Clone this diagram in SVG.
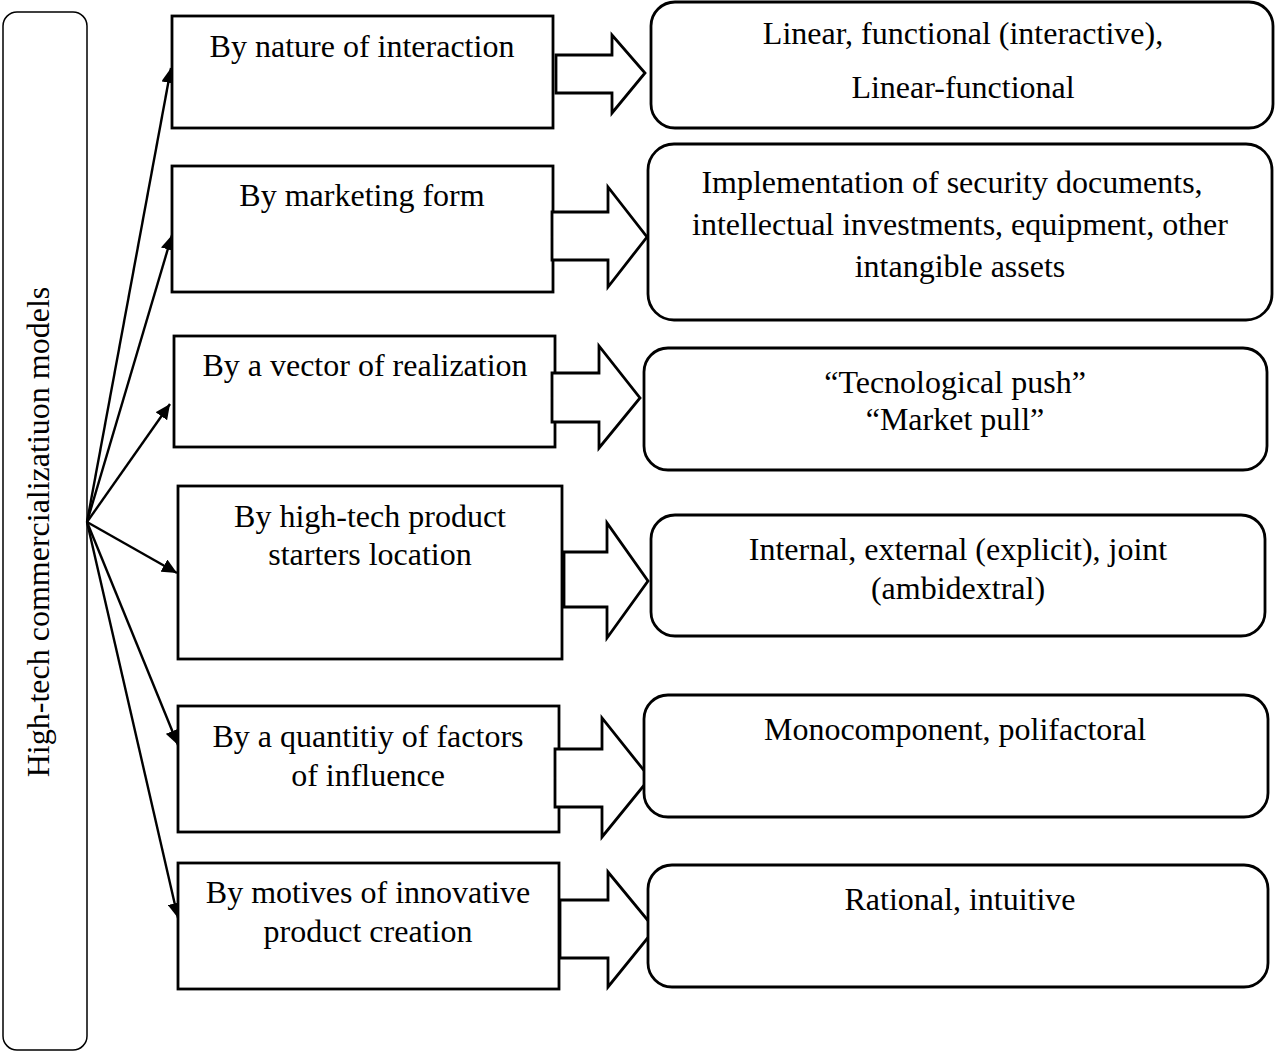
<svg xmlns="http://www.w3.org/2000/svg" width="1275" height="1052" viewBox="0 0 1275 1052">
<style>
text{font-family:"Liberation Serif","Times New Roman",serif;font-size:32px;fill:#000;text-anchor:middle}
.box{fill:#fff;stroke:#000;stroke-width:2.8}
.rbox{fill:#fff;stroke:#000;stroke-width:2.8}
.barrow{fill:#fff;stroke:#000;stroke-width:2.8;stroke-linejoin:miter}
.conn{stroke:#000;stroke-width:2.4;fill:none;marker-end:url(#ah)}
</style>
<defs>
<marker id="ah" viewBox="0 0 15 14" refX="15" refY="7" markerWidth="15" markerHeight="14" markerUnits="userSpaceOnUse" orient="auto">
<path d="M0,0 L15,7 L0,14 z" fill="#000"/>
</marker>
</defs>

<g id="root">
<rect x="3" y="12" width="84" height="1038" rx="14" fill="#fff" stroke="#000" stroke-width="1.5"/>
<text transform="translate(49,532) rotate(-90)">High-tech commercializatiuon models</text>
</g>

<g id="connectors">
<line class="conn" x1="87" y1="522" x2="171" y2="68"/>
<line class="conn" x1="87" y1="522" x2="172" y2="235"/>
<line class="conn" x1="87" y1="522" x2="170" y2="404"/>
<line class="conn" x1="87" y1="522" x2="177" y2="573"/>
<line class="conn" x1="87" y1="522" x2="178" y2="745"/>
<line class="conn" x1="87" y1="522" x2="178" y2="918"/>
</g>

<g id="n1">
<rect class="box" x="172" y="16" width="381" height="112"/>
<text x="362" y="57">By nature of interaction</text>
</g>
<g id="n2">
<rect class="box" x="172" y="166" width="381" height="126"/>
<text x="362" y="206">By marketing form</text>
</g>
<g id="n3">
<rect class="box" x="174" y="336" width="381" height="111"/>
<text x="365" y="376">By a vector of realization</text>
</g>
<g id="n4">
<rect class="box" x="178" y="486" width="384" height="173"/>
<text x="370" y="527">By high-tech product</text>
<text x="370" y="565">starters location</text>
</g>
<g id="n5">
<rect class="box" x="178" y="706" width="381" height="126"/>
<text x="368" y="747">By a quantitiy of factors</text>
<text x="368" y="786">of influence</text>
</g>
<g id="n6">
<rect class="box" x="178" y="863" width="381" height="126"/>
<text x="368" y="903">By motives of innovative</text>
<text x="368" y="942">product creation</text>
</g>

<g id="block-arrows">
<path class="barrow" d="M556,55 H612 V35 L645,73 L612,113 V93 H556 Z"/>
<path class="barrow" d="M552,212 H608 V187 L647,237 L608,287 V260 H552 Z"/>
<path class="barrow" d="M552,373 H599 V346 L640,398 L599,448 V422 H552 Z"/>
<path class="barrow" d="M564,552 H607 V523 L648,581 L607,638 V607 H564 Z"/>
<path class="barrow" d="M555,749 H602 V718 L650,778 L602,837 V807 H555 Z"/>
<path class="barrow" d="M560,900 H608 V872 L655,929 L608,987 V958 H560 Z"/>
</g>

<g id="r1">
<rect class="rbox" x="651" y="2" width="622" height="126" rx="24"/>
<text x="963" y="44">Linear, functional (interactive),</text>
<text x="963" y="98">Linear-functional</text>
</g>
<g id="r2">
<rect class="rbox" x="648" y="144" width="624" height="176" rx="26"/>
<text x="952" y="193">Implementation of security documents,</text>
<text x="960" y="235">intellectual investments, equipment, other</text>
<text x="960" y="277">intangible assets</text>
</g>
<g id="r3">
<rect class="rbox" x="644" y="348" width="623" height="122" rx="24"/>
<text x="955" y="393">“Tecnological push”</text>
<text x="955" y="430">“Market pull”</text>
</g>
<g id="r4">
<rect class="rbox" x="651" y="515" width="614" height="121" rx="24"/>
<text x="958" y="560">Internal, external (explicit), joint</text>
<text x="958" y="599">(ambidextral)</text>
</g>
<g id="r5">
<rect class="rbox" x="644" y="695" width="624" height="122" rx="24"/>
<text x="955" y="740">Monocomponent, polifactoral</text>
</g>
<g id="r6">
<rect class="rbox" x="648" y="865" width="620" height="122" rx="24"/>
<text x="960" y="910">Rational, intuitive</text>
</g>
</svg>
